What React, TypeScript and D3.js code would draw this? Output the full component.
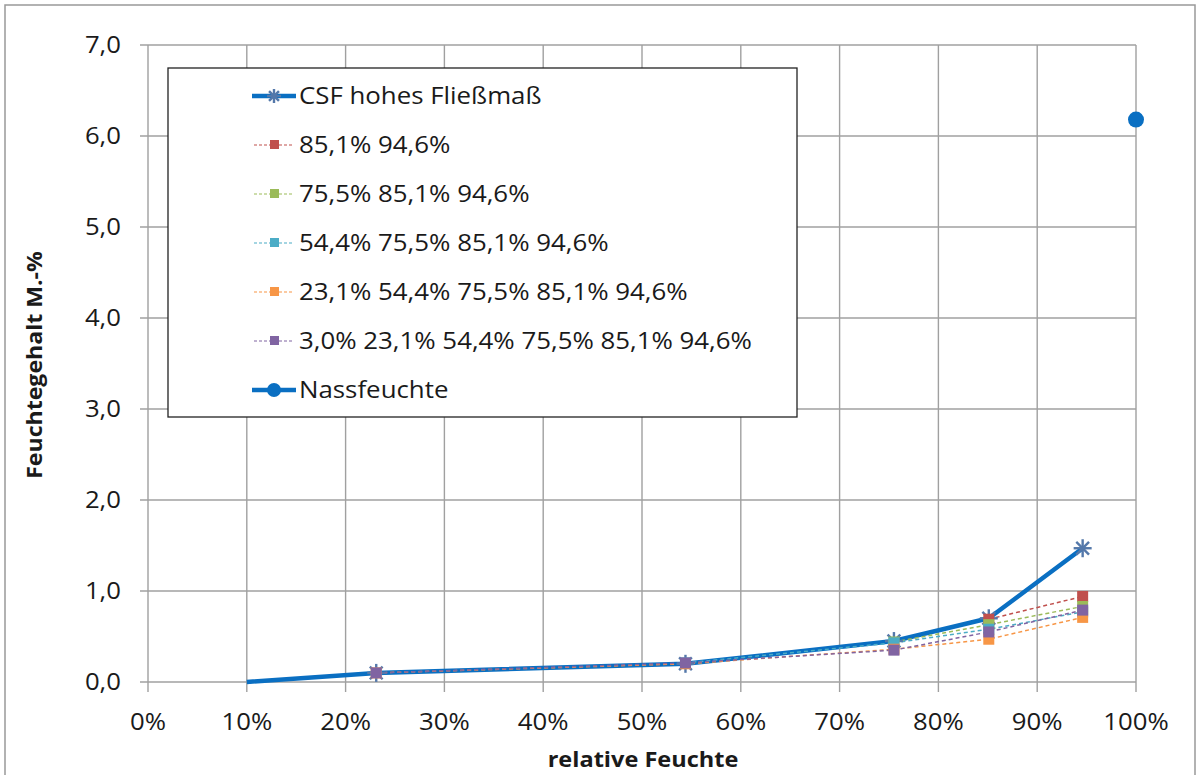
import React from "react";
import * as d3 from "d3";

const xTicks = [0, 10, 20, 30, 40, 50, 60, 70, 80, 90, 100];
const yTicks = [0, 1, 2, 3, 4, 5, 6, 7];

const csfX = [10, 23.1, 54.4, 75.5, 85.1, 94.6];
const csfY = [0.0, 0.1, 0.2, 0.45, 0.7, 1.47];

const redX = [85.1, 94.6];
const redY = [0.69, 0.94];
const greenX = [75.5, 85.1, 94.6];
const greenY = [0.44, 0.63, 0.83];
const tealX = [54.4, 75.5, 85.1, 94.6];
const tealY = [0.21, 0.43, 0.58, 0.77];
const orangeX = [23.1, 54.4, 75.5, 85.1, 94.6];
const orangeY = [0.1, 0.2, 0.36, 0.47, 0.71];
const purpleX = [23.1, 54.4, 75.5, 85.1, 94.6];
const purpleY = [0.1, 0.21, 0.35, 0.55, 0.79];

const nassX = [100];
const nassY = [6.18];

const seriesNames = [
  "CSF hohes Fließmaß",
  "85,1% 94,6%",
  "75,5% 85,1% 94,6%",
  "54,4% 75,5% 85,1% 94,6%",
  "23,1% 54,4% 75,5% 85,1% 94,6%",
  "3,0% 23,1% 54,4% 75,5% 85,1% 94,6%",
  "Nassfeuchte",
];

const dashed = [
  { x: redX, y: redY, color: "#C0504D" },
  { x: greenX, y: greenY, color: "#9BBB59" },
  { x: tealX, y: tealY, color: "#4BACC6" },
  { x: orangeX, y: orangeY, color: "#F79646" },
  { x: purpleX, y: purpleY, color: "#8064A2" },
];

const BLUE = "#0A6FC2";
const STAR = "#5478AA";
const FONT = "'Open Sans', sans-serif";

function Star({ cx, cy, r }: { cx: number; cy: number; r: number }) {
  const lines = [];
  for (let i = 0; i < 4; i++) {
    const a = (Math.PI / 4) * i;
    lines.push(
      <line key={i} x1={cx - r * Math.cos(a)} y1={cy - r * Math.sin(a)} x2={cx + r * Math.cos(a)} y2={cy + r * Math.sin(a)} stroke={STAR} strokeWidth={2.4} />
    );
  }
  return <g>{lines}</g>;
}

function SText({ x, y, sx, size, anchor, bold, children, rotate }: any) {
  return (
    <g transform={`translate(${x},${y})${rotate ? ` rotate(${rotate})` : ""} scale(${sx},1)`}>
      <text x={0} y={0} dy="0.36em" textAnchor={anchor || "start"} fontSize={size} fontWeight={bold ? "bold" : "normal"} fill="#1a1a1a">
        {children}
      </text>
    </g>
  );
}

export default function App() {
  const x = d3.scaleLinear().domain([0, 100]).range([148, 1136]);
  const y = d3.scaleLinear().domain([0, 7]).range([682, 45]);
  const line = d3.line<[number, number]>().x((d) => x(d[0])).y((d) => y(d[1]));
  const zip = (a: number[], b: number[]) => a.map((v, i) => [v, b[i]] as [number, number]);

  const legX = 168, legY = 68, legW = 629, legH = 349;
  const rowY = (i: number) => 96 + i * 49;

  return (
    <svg width={1200} height={775} style={{ position: "absolute", left: 0, top: 0, display: "block" }} fontFamily={FONT}>
      <rect x={0} y={0} width={1200} height={775} fill="#fff" />
      <rect x={5} y={5} width={1190} height={785} fill="#fff" stroke="#999" strokeWidth={1.5} />
      {/* grid */}
      {xTicks.map((t) => (
        <line key={"vx" + t} x1={x(t)} x2={x(t)} y1={y(7)} y2={y(0) + 10} stroke="#A0A0A0" strokeWidth={1.4} />
      ))}
      {yTicks.map((t) => (
        <line key={"hy" + t} x1={x(0) - 8} x2={x(100)} y1={y(t)} y2={y(t)} stroke="#A0A0A0" strokeWidth={1.4} />
      ))}
      {yTicks.map((t) => (
        <SText key={"yl" + t} x={121} y={y(t)} sx={1.12} size={23} anchor="end">
          {d3.format(".1f")(t).replace(".", ",")}
        </SText>
      ))}
      {xTicks.map((t) => (
        <SText key={"xl" + t} x={x(t)} y={722} sx={1.12} size={23} anchor="middle">
          {t + "%"}
        </SText>
      ))}
      <SText x={643} y={759} sx={1.07} size={22} anchor="middle" bold>
        relative Feuchte
      </SText>
      <SText x={34} y={365} sx={1.05} size={22} anchor="middle" bold rotate={-90}>
        Feuchtegehalt M.-%
      </SText>

      {/* data */}
      <path d={line(zip(csfX, csfY)) || ""} fill="none" stroke={BLUE} strokeWidth={4.5} strokeLinejoin="round" />
      {dashed.map((s, i) => (
        <path key={"dl" + i} d={line(zip(s.x, s.y)) || ""} fill="none" stroke={s.color} strokeWidth={1.5} strokeDasharray="4,3" />
      ))}
      {csfX.slice(1).map((v, i) => (
        <Star key={"st" + i} cx={x(v)} cy={y(csfY[i + 1])} r={9} />
      ))}
      {dashed.map((s, i) =>
        s.x.map((v, j) => (
          <rect key={"m" + i + "-" + j} x={x(v) - 5.5} y={y(s.y[j]) - 5.5} width={11} height={11} fill={s.color} />
        ))
      )}
      {nassX.map((v, i) => (
        <circle key={"n" + i} cx={x(v)} cy={y(nassY[i])} r={8} fill={BLUE} />
      ))}

      {/* legend */}
      <rect x={legX} y={legY} width={legW} height={legH} fill="#fff" stroke="#222" strokeWidth={1.3} />
      {seriesNames.map((name, i) => {
        const cy = rowY(i);
        let sym = null;
        if (i === 0) {
          sym = (
            <g>
              <line x1={252} x2={296} y1={cy} y2={cy} stroke={BLUE} strokeWidth={4.5} />
              <Star cx={274} cy={cy} r={7} />
            </g>
          );
        } else if (i === 6) {
          sym = (
            <g>
              <line x1={252} x2={296} y1={cy} y2={cy} stroke={BLUE} strokeWidth={4.5} />
              <circle cx={274} cy={cy} r={7} fill={BLUE} />
            </g>
          );
        } else {
          const s = dashed[i - 1];
          sym = (
            <g>
              <line x1={254} x2={294} y1={cy} y2={cy} stroke={s.color} strokeWidth={1.2} strokeDasharray="3,2" />
              <rect x={270} y={cy - 5} width={9} height={9} fill={s.color} />
            </g>
          );
        }
        return (
          <g key={"lg" + i}>
            {sym}
            <SText x={299} y={cy} sx={1.1} size={23.5}>
              {name}
            </SText>
          </g>
        );
      })}
    </svg>
  );
}
